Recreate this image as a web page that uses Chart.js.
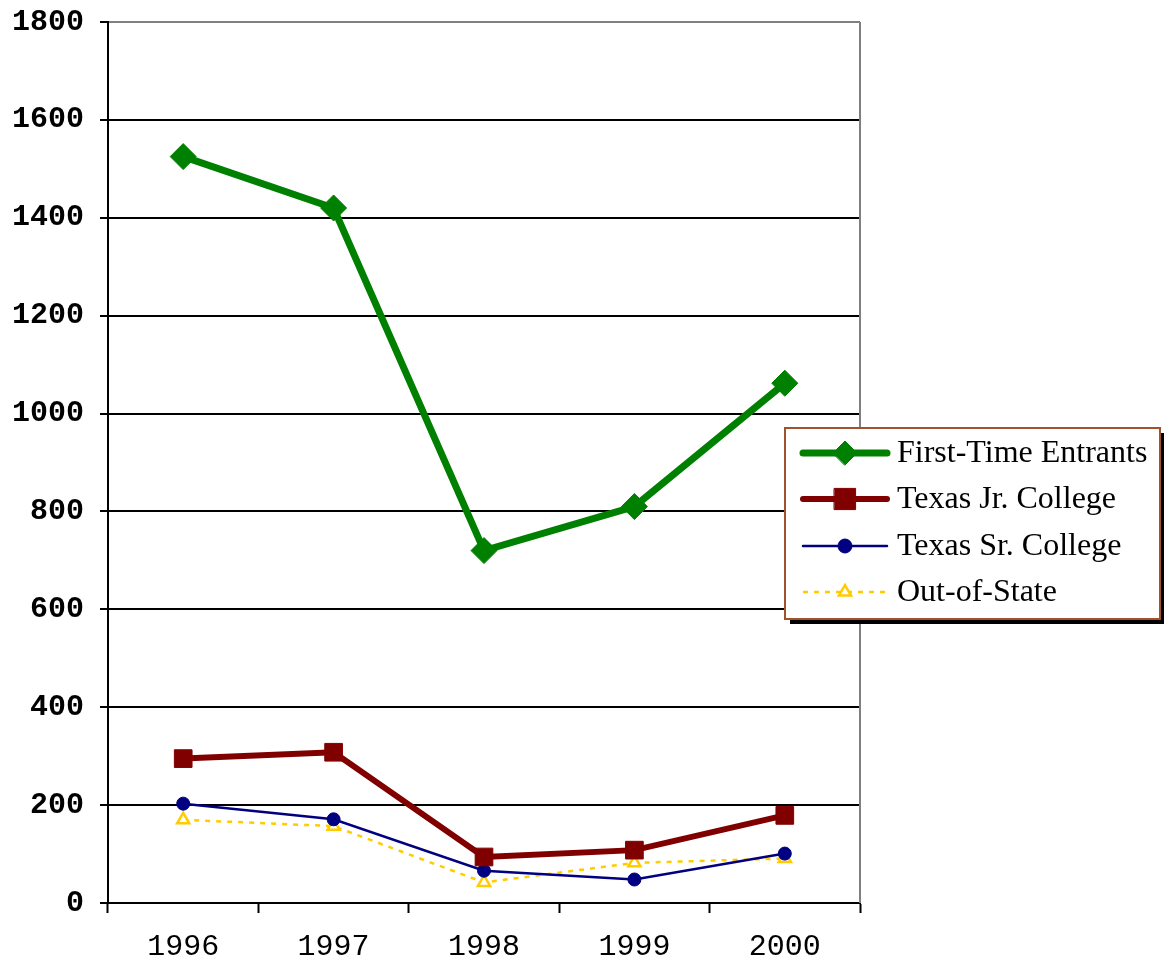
<!DOCTYPE html>
<html>
<head>
<meta charset="utf-8">
<script src="https://cdn.jsdelivr.net/npm/chart.js@4"></script>
<style>
  html, body { margin: 0; padding: 0; background: #fff; }
  #wrap { width: 1164px; height: 958px; }
</style>
</head>
<body>
<div id="wrap"><canvas id="myChart" width="1164" height="958"></canvas></div>
<script>
const years = ['1996', '1997', '1998', '1999', '2000'];
const firstTime = [1525, 1420, 720, 810, 1062];
const jrCollege = [295, 308, 94, 108, 179];
const srCollege = [203, 171, 66, 48, 101];
const outOfState = [170, 157, 42, 82, 91];
const yTicks = [0, 200, 400, 600, 800, 1000, 1200, 1400, 1600, 1800];

// draw legend box over the plot, like the original
const legendBox = {
    id: 'legendBox',
    afterDraw(chart) {
        const ctx = chart.ctx;
        const x = 785, y = 428, w = 375, h = 191;
        ctx.save();
        ctx.fillStyle = '#000';
        ctx.fillRect(x + 5, y + 5, w, h);
        ctx.fillStyle = '#fff';
        ctx.fillRect(x, y, w, h);
        ctx.strokeStyle = '#a0522d';
        ctx.lineWidth = 2;
        ctx.strokeRect(x, y, w, h);
        const rows = [453, 499, 546, 592];
        chart.data.datasets.forEach((ds, i) => {
            const cy = rows[i];
            ctx.strokeStyle = ds.borderColor;
            ctx.lineWidth = ds.borderWidth;
            ctx.lineCap = ds.borderDash ? 'butt' : 'round';
            ctx.setLineDash(ds.borderDash || []);
            ctx.beginPath();
            ctx.moveTo(803, cy);
            ctx.lineTo(887, cy);
            ctx.stroke();
            ctx.setLineDash([]);
            ctx.fillStyle = ds.pointBackgroundColor;
            ctx.strokeStyle = ds.pointBorderColor;
            ctx.lineWidth = ds.pointBorderWidth;
            Chart.helpers.drawPoint(ctx, {
                pointStyle: ds.pointStyle,
                radius: ds.legendRadius,
                rotation: 0,
                borderWidth: ds.pointBorderWidth
            }, 845, cy);
            ctx.fillStyle = '#000';
            ctx.font = '32px "Liberation Serif"';
            ctx.textBaseline = 'middle';
            ctx.fillText(ds.label, 897, cy + 1);
        });
        ctx.restore();
    }
};

// gray right border of the plot
const plotBorder = {
    id: 'plotBorder',
    beforeDatasetsDraw(chart) {
        const a = chart.chartArea;
        const ctx = chart.ctx;
        ctx.save();
        ctx.strokeStyle = '#808080';
        ctx.lineWidth = 2;
        ctx.beginPath();
        ctx.moveTo(a.right, a.top);
        ctx.lineTo(a.right, a.bottom);
        ctx.stroke();
        ctx.restore();
    }
};

const ctx = document.getElementById('myChart').getContext('2d');
const myChart = new Chart(ctx, {
    type: 'line',
    data: {
        labels: years,
        datasets: [{
            label: 'First-Time Entrants',
            data: firstTime,
            borderColor: '#008000',
            borderWidth: 7,
            pointStyle: 'rectRot',
            pointRadius: 13,
            legendRadius: 12,
            pointBackgroundColor: '#008000',
            pointBorderColor: '#008000',
            pointBorderWidth: 1,
            tension: 0
        }, {
            label: 'Texas Jr. College',
            data: jrCollege,
            borderColor: '#800000',
            borderWidth: 6,
            pointStyle: 'rect',
            pointRadius: 12.5,
            legendRadius: 15,
            pointBackgroundColor: '#800000',
            pointBorderColor: '#800000',
            pointBorderWidth: 1,
            tension: 0
        }, {
            label: 'Texas Sr. College',
            data: srCollege,
            borderColor: '#000080',
            borderWidth: 2.5,
            pointStyle: 'circle',
            pointRadius: 6.5,
            legendRadius: 7,
            pointBackgroundColor: '#000080',
            pointBorderColor: '#000080',
            pointBorderWidth: 1,
            tension: 0
        }, {
            label: 'Out-of-State',
            data: outOfState,
            borderColor: '#ffcc00',
            borderWidth: 2.5,
            borderDash: [5, 6],
            pointStyle: 'triangle',
            pointRadius: 7,
            legendRadius: 7,
            pointBackgroundColor: '#ffffff',
            pointBorderColor: '#ffcc00',
            pointBorderWidth: 2.5,
            tension: 0
        }]
    },
    options: {
        responsive: false,
        animation: false,
        layout: { padding: { top: 20, right: 304, left: 0, bottom: 0 } },
        plugins: {
            legend: { display: false },
            tooltip: { enabled: false }
        },
        scales: {
            x: {
                type: 'category',
                offset: true,
                grid: {
                    display: true,
                    drawOnChartArea: false,
                    offset: true,
                    tickLength: 10,
                    tickColor: '#000',
                    tickWidth: 2
                },
                border: { color: '#000', width: 2 },
                ticks: {
                    color: '#000',
                    padding: 16,
                    font: { family: '"Liberation Mono"', size: 30 }
                },
                afterFit(scale) { scale.height = 55; }
            },
            y: {
                min: 0,
                max: 1800,
                afterBuildTicks(scale) {
                    scale.ticks = yTicks.map(v => ({ value: v }));
                },
                grid: {
                    color: c => (c.tick && c.tick.value === 1800 ? '#808080' : '#000'),
                    lineWidth: 2,
                    tickLength: 8,
                    tickColor: '#000',
                    tickWidth: 2
                },
                border: { color: '#000', width: 2 },
                ticks: {
                    color: '#000',
                    padding: 16,
                    callback: v => String(v),
                    font: { family: '"Liberation Mono"', size: 30, weight: 'bold', lineHeight: 0.4 }
                },
                afterFit(scale) { scale.width = 108; }
            }
        }
    },
    plugins: [plotBorder, legendBox]
});
</script>
</body>
</html>
